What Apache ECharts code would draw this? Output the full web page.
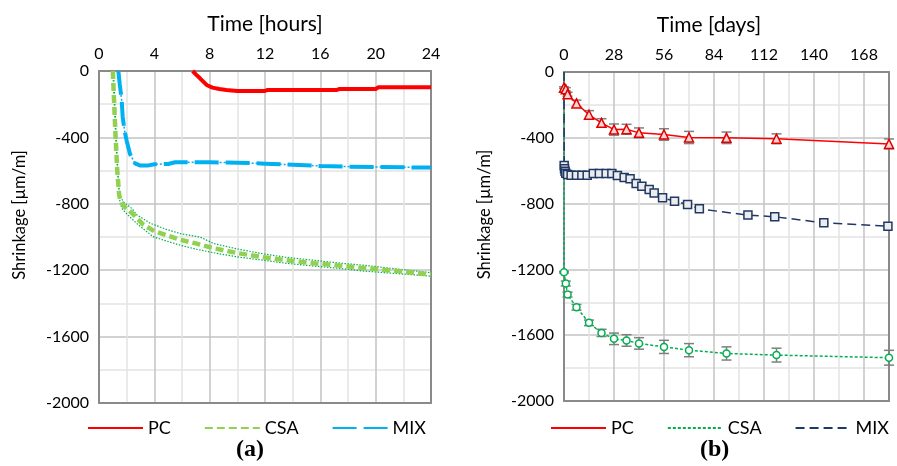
<!DOCTYPE html>
<html><head><meta charset="utf-8">
<script src="https://cdn.jsdelivr.net/npm/echarts@6/dist/echarts.min.js"></script>
<style>
html,body{margin:0;padding:0;background:#fff;width:897px;height:466px;overflow:hidden}
#a{position:absolute;left:0;top:0;width:448px;height:466px}
#b{position:absolute;left:448px;top:0;width:449px;height:466px}
</style>
</head><body><div id="a"></div><div id="b"></div>
<script>
// ---------- (a) early age, hours ----------
const PC_h      = [6.77, 7.0, 7.3, 7.78, 8.2, 8.7, 9.2, 10, 12, 12.2, 17.2, 17.4, 20, 20.2, 24];
const PC_h_val  = [0, -20, -44, -84, -100, -108, -114, -120, -120, -114, -114, -108, -108, -98, -98];

const CSA_h     = [1.0, 1.1, 1.2, 1.32, 1.45, 1.55, 1.8, 2.4, 3.2, 4.0, 4.9, 5.9, 7.06, 8.3, 10, 11.9, 13.5, 15.5, 17.5, 19.1, 21.5, 24];
const CSA_h_val = [0, -200, -400, -600, -740, -785, -815, -857, -925, -965, -990, -1017, -1040, -1068, -1097, -1122, -1140, -1158, -1173, -1186, -1205, -1226];

const CSA_up_h   = [1.0, 1.1, 1.2, 1.32, 1.45, 1.55, 1.8, 2.4, 2.72, 3.7, 4.9, 5.9, 7.3, 8.3, 10, 11.9, 13.5, 15.5, 17.5, 19.1, 21.5, 24];
const CSA_up_val = [0, -190, -385, -580, -720, -760, -790, -830, -865, -917, -955, -980, -1000, -1040, -1072, -1102, -1122, -1140, -1158, -1170, -1192, -1215];

const CSA_lo_h   = [1.05, 1.15, 1.25, 1.38, 1.5, 1.64, 2.0, 2.72, 3.9, 4.9, 5.9, 7.06, 8.3, 10, 11.9, 13.5, 15.5, 17.5, 19.1, 21.5, 24];
const CSA_lo_val = [0, -200, -410, -620, -780, -827, -860, -918, -998, -1025, -1050, -1074, -1095, -1120, -1140, -1158, -1175, -1190, -1205, -1220, -1236];

const MIX_h     = [1.4, 1.5, 1.64, 1.71, 1.85, 2.0, 2.24, 2.6, 3.0, 3.5, 4, 5, 5.5, 8, 10, 12, 14, 16, 18, 20, 22, 24];
const MIX_h_val = [0, -80, -175, -275, -360, -420, -500, -556, -570, -570, -562, -560, -550, -550, -552, -558, -565, -572, -576, -578, -580, -582];

// ---------- (b) long term, days ----------
const PC_d      = [0, 1, 2, 7, 14, 21, 28, 35, 42, 56, 70, 91, 119, 182];
const PC_d_val  = [-95, -105, -135, -191, -260, -309, -350, -348, -370, -380, -398, -400, -406, -437];
const PC_d_err  = [5, 10, 12, 20, 25, 25, 34, 30, 30, 35, 37, 35, 30, 30];

const CSA_d     = [0, 0, 1, 2, 7, 14, 21, 28, 35, 42, 56, 70, 91, 119, 182];
const CSA_d_val = [0, -1217, -1286, -1353, -1430, -1525, -1586, -1622, -1632, -1650, -1671, -1691, -1711, -1721, -1737];
const CSA_d_err = [0, 5, 15, 15, 17, 17, 22, 35, 35, 35, 40, 40, 40, 42, 45];

const MIX_d     = [0, 0.1, 0.3, 0.6, 1, 2, 4, 7, 10, 13, 16.4, 19.8, 23.6, 26.8, 29.9, 33.7, 37, 40.4, 43.6, 47.7, 50.5, 55.2, 61.9, 69.2, 75.8, 103, 118, 145.5, 181.4];
const MIX_d_val = [0, -568, -588, -603, -615, -623, -627, -627, -627, -627, -617, -617, -617, -617, -629, -641, -649, -678, -694, -714, -735, -765, -785, -805, -832, -870, -880, -917, -937];

const LEGEND = ['PC', 'CSA', 'MIX'];

// ---------- helpers ----------
const FONT = 'Lato';
const pairs = (xs, ys) => xs.map((x, i) => [x, ys[i]]);
const MAJOR = '#c3c3c3', MINOR = '#e3e3e3', BORDER = '#8a8a8a';

function mainX(max, step, major, name, namePad) {
  return {
    type: 'value', position: 'top', min: 0, max: max, interval: step,
    name: name, nameLocation: 'middle', nameGap: 36,
    nameTextStyle: { fontFamily: FONT, fontSize: 21, color: '#000', padding: namePad },
    axisLine: { show: true, lineStyle: { color: BORDER, width: 2 } },
    axisTick: { show: false },
    axisLabel: { margin: 9, fontFamily: FONT, fontSize: 16, color: '#000',
      formatter: v => (Math.abs(v % major) < 1e-9 ? String(v) : '') },
    splitLine: { show: true, lineStyle: { color: [MAJOR, MINOR], width: 1.5 } }
  };
}
function mainY() {
  return {
    type: 'value', min: -2000, max: 0, interval: 200,
    name: 'Shrinkage [µm/m]', nameLocation: 'middle', nameGap: 71,
    nameTextStyle: { fontFamily: FONT, fontSize: 16.5, color: '#000', padding: [0, 0, 0, 44] },
    axisLine: { show: true, onZero: false, lineStyle: { color: BORDER, width: 2 } },
    axisTick: { show: false },
    axisLabel: { margin: 10, fontFamily: FONT, fontSize: 16, color: '#000',
      formatter: v => (Math.abs(v % 400) < 1e-9 ? String(v) : '') },
    splitLine: { show: true, lineStyle: { color: [MAJOR, MINOR], width: 1.5 } }
  };
}
function borderX(max) {
  return { type: 'value', position: 'bottom', min: 0, max: max,
    axisLine: { show: true, onZero: false, lineStyle: { color: BORDER, width: 2 } },
    axisTick: { show: false }, axisLabel: { show: false }, splitLine: { show: false } };
}
function borderY() {
  return { type: 'value', position: 'right', min: -2000, max: 0,
    axisLine: { show: true, onZero: false, lineStyle: { color: BORDER, width: 2 } },
    axisTick: { show: false }, axisLabel: { show: false }, splitLine: { show: false } };
}
function legend(left) {
  return { data: LEGEND, left: left, top: 414, width: 380, padding: 5,
    itemWidth: 55, itemHeight: 14, itemGap: 33,
    textStyle: { fontFamily: FONT, fontSize: 18, color: '#000' },
    itemStyle: { opacity: 0 }, selectedMode: false };
}
function label(text, left) {
  return { text: text, left: left, top: 433,
    textStyle: { fontFamily: 'Liberation Serif', fontWeight: 'bold', fontSize: 24, color: '#000' } };
}

// ---------- chart (a) ----------
const ca = echarts.init(document.getElementById('a'), null, { renderer: 'canvas' });
ca.setOption({
  animation: false,
  title: label('(a)', 231),
  legend: legend(82),
  grid: { left: 99, top: 71, width: 332, height: 332 },
  xAxis: [mainX(24, 2, 4, 'Time [hours]', [0, 0, 0, 0]), borderX(24)],
  yAxis: [mainY(), borderY()],
  series: [
    { name: 'CSA_up', type: 'line', data: pairs(CSA_up_h, CSA_up_val), symbol: 'none', z: 2,
      lineStyle: { color: '#00B050', width: 1.2, type: [1.5, 1.5] } },
    { name: 'CSA_lo', type: 'line', data: pairs(CSA_lo_h, CSA_lo_val), symbol: 'none', z: 2,
      lineStyle: { color: '#00B050', width: 1.2, type: [1.5, 1.5] } },
    { name: 'CSA', type: 'line', data: pairs(CSA_h, CSA_h_val), symbol: 'none', z: 3,
      itemStyle: { color: '#92D050' },
      lineStyle: { color: '#92D050', width: 4.5, type: [8, 4] } },
    { name: 'MIX_dot', type: 'line', data: pairs(MIX_h, MIX_h_val), symbol: 'none', z: 3,
      lineStyle: { color: '#00B0F0', width: 1.5, type: [2, 2] } },
    { name: 'MIX', type: 'line', data: pairs(MIX_h, MIX_h_val), symbol: 'none', z: 4,
      itemStyle: { color: '#00B0F0' },
      lineStyle: { color: '#00B0F0', width: 4, type: [24, 7] } },
    { name: 'PC', type: 'line', data: pairs(PC_h, PC_h_val), symbol: 'none', z: 5,
      itemStyle: { color: '#FF0000' },
      lineStyle: { color: '#FF0000', width: 4 } }
  ]
});

// ---------- chart (b) ----------
function errData(xs, ys, es) { return xs.map((x, i) => [x, ys[i], es[i]]); }
function errRender(params, api) {
  const x = api.value(0), y = api.value(1), e = api.value(2);
  if (!e) return null;
  const t = api.coord([x, y + e]), b = api.coord([x, y - e]);
  const w = 5, st = { stroke: '#7f7f7f', lineWidth: 1.5 };
  return { type: 'group', children: [
    { type: 'line', shape: { x1: t[0], y1: t[1], x2: b[0], y2: b[1] }, style: st },
    { type: 'line', shape: { x1: t[0] - w, y1: t[1], x2: t[0] + w, y2: t[1] }, style: st },
    { type: 'line', shape: { x1: b[0] - w, y1: b[1], x2: b[0] + w, y2: b[1] }, style: st }
  ]};
}
const withOnset = (xs, ys, sym) => xs.map((x, i) => ({ value: [x, ys[i]], symbol: ys[i] === 0 ? 'none' : sym }));

const cb = echarts.init(document.getElementById('b'), null, { renderer: 'canvas' });
cb.setOption({
  animation: false,
  title: label('(b)', 247),
  legend: legend(97),
  grid: { left: 116, top: 72, width: 325, height: 329 },
  xAxis: [mainX(182, 14, 28, 'Time [days]', [0, 35, 0, 0]), borderX(182)],
  yAxis: [mainY(), borderY()],
  series: [
    { name: 'PC_err', type: 'custom', renderItem: errRender, data: errData(PC_d, PC_d_val, PC_d_err), z: 2, silent: true },
    { name: 'CSA_err', type: 'custom', renderItem: errRender, data: errData(CSA_d, CSA_d_val, CSA_d_err), z: 2, silent: true },
    { name: 'CSA', type: 'line', data: withOnset(CSA_d, CSA_d_val, 'circle'), z: 3,
      symbol: 'circle', symbolSize: 7,
      itemStyle: { color: '#ffffff', borderColor: '#00B050', borderWidth: 1.5 },
      lineStyle: { color: '#00B050', width: 1.5, type: [3, 2] } },
    { name: 'MIX', type: 'line', data: withOnset(MIX_d, MIX_d_val, 'rect'), z: 4,
      symbol: 'rect', symbolSize: 8,
      itemStyle: { color: '#ececec', borderColor: '#1F3864', borderWidth: 1.5 },
      lineStyle: { color: '#1F3864', width: 1.5, type: [9, 5] } },
    { name: 'PC', type: 'line', data: pairs(PC_d, PC_d_val), z: 5,
      symbol: 'triangle', symbolSize: 9,
      itemStyle: { color: '#fbd3d3', borderColor: '#e00000', borderWidth: 1.5 },
      lineStyle: { color: '#FF0000', width: 1.5 } }
  ]
});
</script>
</body></html>
